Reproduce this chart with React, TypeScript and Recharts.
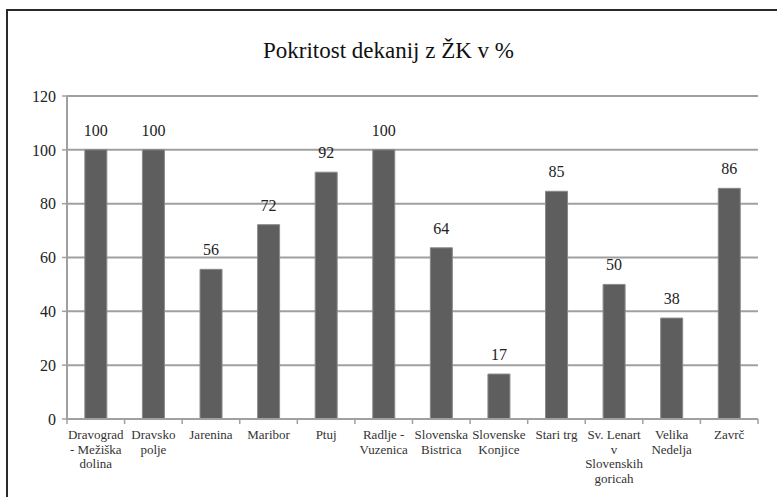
import React from 'react';
import { BarChart, Bar, XAxis, YAxis, CartesianGrid, LabelList } from 'recharts';

const categories = [
    'Dravograd\n- Mežiška\ndolina',
    'Dravsko\npolje',
    'Jarenina',
    'Maribor',
    'Ptuj',
    'Radlje -\nVuzenica',
    'Slovenska\nBistrica',
    'Slovenske\nKonjice',
    'Stari trg',
    'Sv. Lenart\nv\nSlovenskih\ngoricah',
    'Velika\nNedelja',
    'Zavrč',
];

const coverage = [100, 100, 55.6, 72.2, 91.7, 100, 63.6, 16.7, 84.6, 50, 37.5, 85.7];

const yTicks = [0, 20, 40, 60, 80, 100, 120];

const data = categories.map((name, i) => ({ name, value: coverage[i] }));

const FONT = '"Liberation Serif"';
const GRID = '#a0a0a0';

const W = 777;
const H = 497;
const MARGIN = { top: 96, right: 19, left: 7, bottom: 8 };
const Y_WIDTH = 60;

// ticks sit on the category boundaries, like in Excel
function CategoryTick(props: any) {
    const { x, y, payload, index } = props;
    const plotW = W - MARGIN.left - Y_WIDTH - MARGIN.right;
    const band = plotW / categories.length;
    const lines = String(payload.value).split('\n');
    return (
        <g>
            <line x1={x - band / 2} y1={y - 8} x2={x - band / 2} y2={y - 3} stroke={GRID} strokeWidth={1.5} />
            {index === categories.length - 1 && (
                <line x1={x + band / 2} y1={y - 8} x2={x + band / 2} y2={y - 3} stroke={GRID} strokeWidth={1.5} />
            )}
            <text x={x} y={y + 12} textAnchor="middle" fontFamily={FONT} fontSize={13} fill="#333">
                {lines.map((l, i) => (
                    <tspan key={i} x={x} dy={i === 0 ? 0 : 14.5}>{l}</tspan>
                ))}
            </text>
        </g>
    );
}

export default function App() {
    return (
        <div style={{ position: 'fixed', left: 0, top: 0, width: W, height: H, overflow: 'hidden', background: '#fff', fontFamily: FONT }}>
            <div style={{ position: 'absolute', left: 6, top: 9, width: 800, height: 520, border: '2px solid #2a2a2a' }} />
            <div style={{ position: 'absolute', left: 0, top: 38, width: W, textAlign: 'center', fontSize: 23, color: '#111' }}>
                Pokritost dekanij z ŽK v %
            </div>
            <div style={{ position: 'absolute', left: 0, top: 0 }}>
                <BarChart width={W} height={H} data={data} margin={MARGIN} barCategoryGap="31%">
                    <CartesianGrid vertical={false} stroke={GRID} strokeWidth={2} />
                    <XAxis
                        dataKey="name"
                        interval={0}
                        height={70}
                        tickLine={false}
                        axisLine={{ stroke: GRID, strokeWidth: 2 }}
                        tick={<CategoryTick />}
                    />
                    <YAxis
                        width={Y_WIDTH}
                        domain={[0, 120]}
                        ticks={yTicks}
                        axisLine={{ stroke: GRID, strokeWidth: 2 }}
                        tickLine={{ stroke: GRID, strokeWidth: 1.5 }}
                        tickSize={5}
                        tickMargin={6}
                        tick={{ fontFamily: FONT, fontSize: 16, fill: '#222' }}
                    />
                    <Bar dataKey="value" fill="#5e5e5e" stroke="#8a8a8a" strokeWidth={1} isAnimationActive={false}>
                        <LabelList
                            dataKey="value"
                            position="top"
                            offset={14}
                            formatter={(v: any) => Math.round(Number(v))}
                            style={{ fontFamily: FONT, fontSize: 16, fill: '#222' }}
                        />
                    </Bar>
                </BarChart>
            </div>
        </div>
    );
}
